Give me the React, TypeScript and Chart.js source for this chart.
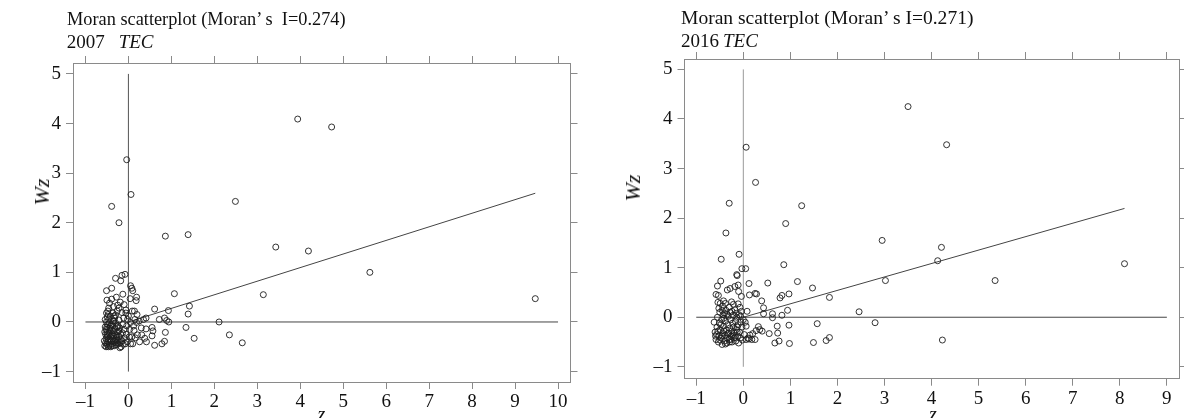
import React, { useEffect, useRef } from "react";
import { Chart, registerables } from "chart.js";

Chart.register(...registerables);

// ---------- DATA ----------
const yTicks = [-1, 0, 1, 2, 3, 4, 5];
const xTicks2007 = [-1, 0, 1, 2, 3, 4, 5, 6, 7, 8, 9, 10];
const xTicks2016 = [-1, 0, 1, 2, 3, 4, 5, 6, 7, 8, 9];

const moranI2007 = 0.274;
const moranI2016 = 0.271;

// [z, Wz]
const points2007: [number, number][] = [
  [3.94, 4.09], [4.73, 3.93], [-0.04, 3.27], [0.06, 2.57], [-0.39, 2.33], [-0.22, 2.0],
  [2.49, 2.43], [0.86, 1.73], [1.39, 1.76], [3.43, 1.51], [4.19, 1.43], [5.62, 1.0],
  [9.47, 0.47], [3.14, 0.55], [1.07, 0.57], [1.42, 0.32], [1.39, 0.16], [2.11, 0.0],
  [1.34, -0.11], [1.53, -0.33], [2.35, -0.26], [2.65, -0.42], [0.61, 0.26], [0.93, 0.23],
  [0.86, -0.21], [0.84, -0.39], [0.78, -0.44], [0.72, 0.05], [0.84, 0.08], [0.89, 0.03],
  [0.94, 0.0], [0.61, -0.47], [0.55, -0.11], [0.55, -0.28], [0.57, -0.18], [0.41, -0.14],
  [0.41, 0.08], [0.35, 0.05], [0.31, -0.26], [0.42, -0.4], [0.26, -0.4], [0.21, -0.26],
  [0.13, -0.17], [0.1, -0.44], [0.05, -0.01], [0.19, -0.01],
  [-0.08, 0.96], [-0.15, 0.94], [-0.18, 0.83], [-0.3, 0.88], [0.05, 0.73], [0.08, 0.68],
  [0.1, 0.63], [-0.39, 0.68], [-0.51, 0.63], [0.19, 0.5], [0.18, 0.43], [0.04, 0.47],
  [-0.13, 0.56], [-0.28, 0.5], [-0.39, 0.46], [-0.5, 0.44], [-0.19, 0.4], [-0.25, 0.34],
  [-0.35, 0.31], [0.09, 0.22], [-0.06, 0.24], [-0.15, 0.19], [-0.46, 0.28], [-0.51, 0.18],
  [-0.3, 0.14],
  [-0.55, -0.48], [-0.52, -0.5], [-0.5, -0.45], [-0.48, -0.4], [-0.47, -0.35], [-0.5, -0.3],
  [-0.53, -0.25], [-0.55, -0.2], [-0.52, -0.15], [-0.5, -0.1], [-0.48, -0.05], [-0.51, 0.0],
  [-0.54, 0.05], [-0.49, 0.1], [-0.46, 0.05], [-0.44, -0.02], [-0.43, -0.12], [-0.45, -0.22],
  [-0.42, -0.3], [-0.4, -0.38], [-0.44, -0.45], [-0.41, -0.5], [-0.38, -0.44], [-0.36, -0.34],
  [-0.38, -0.25], [-0.35, -0.18], [-0.37, -0.08], [-0.34, 0.02], [-0.32, 0.08], [-0.3, -0.02],
  [-0.31, -0.14], [-0.29, -0.26], [-0.32, -0.4], [-0.28, -0.46], [-0.26, -0.36], [-0.25, -0.2],
  [-0.24, -0.08], [-0.22, 0.04], [-0.2, -0.12], [-0.21, -0.3], [-0.19, -0.42], [-0.17, -0.5],
  [-0.2, -0.52], [-0.15, -0.38], [-0.14, -0.22], [-0.13, -0.05], [-0.11, 0.08], [-0.1, -0.15],
  [-0.09, -0.32], [-0.07, -0.44], [-0.05, -0.25], [-0.04, -0.08], [-0.02, 0.05], [-0.03, -0.4],
  [0.02, -0.3], [0.03, -0.15], [-0.46, -0.28], [-0.4, -0.16], [-0.33, -0.48], [-0.27, -0.1],
  [-0.23, -0.44], [-0.47, 0.15], [-0.42, 0.12], [-0.36, 0.18], [-0.56, -0.38], [-0.54, -0.1],
  [-0.49, -0.2], [-0.39, -0.05], [-0.35, -0.28], [-0.3, -0.35], [-0.45, -0.48], [-0.18, -0.25],
  [-0.12, -0.45], [0.05, -0.44], [0.08, -0.3], [0.12, -0.08], [0.0, 0.12], [-0.06, 0.18],
  [0.14, 0.22], [0.2, 0.15],
  [-0.53, -0.42], [-0.47, -0.5], [-0.43, -0.36], [-0.39, -0.28], [-0.37, -0.48], [-0.34, -0.38],
  [-0.33, -0.22], [-0.29, -0.42], [-0.27, -0.3], [-0.24, -0.38], [-0.22, -0.18], [-0.18, -0.35],
  [-0.52, -0.34], [-0.49, -0.26], [-0.46, -0.13], [-0.41, -0.08], [-0.36, 0.02], [-0.33, 0.12],
  [-0.26, 0.22], [-0.44, 0.38], [-0.48, 0.22], [-0.22, 0.28], [-0.1, 0.35], [0.15, 0.05],
  [0.25, 0.02], [0.3, -0.12], [0.38, -0.33], [0.16, -0.32],
];

const points2016: [number, number][] = [
  [3.5, 4.25], [4.32, 3.48], [0.06, 3.43], [0.26, 2.72], [-0.3, 2.3], [1.24, 2.25],
  [0.9, 1.89], [-0.37, 1.7], [2.95, 1.55], [4.21, 1.41], [4.13, 1.14], [8.1, 1.08],
  [5.35, 0.74], [-0.47, 1.17], [-0.09, 1.27], [0.86, 1.06], [-0.03, 0.98], [0.05, 0.98],
  [-0.13, 0.84], [-0.14, 0.86], [3.02, 0.74], [1.15, 0.72], [0.52, 0.69], [0.12, 0.68],
  [1.47, 0.59], [1.83, 0.4], [0.97, 0.47], [0.82, 0.44], [0.78, 0.39], [0.25, 0.48],
  [0.28, 0.47], [0.13, 0.45], [0.39, 0.33], [0.43, 0.19], [0.94, 0.14], [0.82, 0.04],
  [0.62, 0.07], [0.43, 0.07], [2.46, 0.11], [2.8, -0.11], [1.57, -0.13], [0.97, -0.16],
  [0.62, -0.01], [0.72, -0.18], [0.55, -0.33], [0.73, -0.32], [0.76, -0.48], [0.67, -0.52],
  [0.98, -0.53], [1.49, -0.51], [1.76, -0.47], [1.83, -0.41], [4.23, -0.46], [0.35, -0.25],
  [0.32, -0.19], [0.4, -0.28], [0.27, -0.27], [0.2, -0.33], [0.25, -0.45], [0.12, -0.44],
  [0.06, -0.18], [0.04, -0.1],
  [-0.48, 0.73], [-0.55, 0.63], [-0.58, 0.46], [-0.53, 0.44], [-0.34, 0.55], [-0.28, 0.58],
  [-0.18, 0.62], [-0.1, 0.52], [-0.04, 0.42], [-0.11, 0.65], [-0.49, 0.28], [-0.42, 0.33],
  [-0.25, 0.31], [-0.21, 0.26], [-0.11, 0.27], [-0.07, 0.2],
  [-0.62, -0.1], [-0.6, -0.3], [-0.58, -0.45], [-0.56, -0.2], [-0.55, 0.0], [-0.53, -0.5],
  [-0.52, -0.38], [-0.51, -0.12], [-0.5, 0.1], [-0.49, -0.25], [-0.47, -0.42], [-0.46, -0.05],
  [-0.45, -0.55], [-0.44, -0.32], [-0.43, 0.05], [-0.42, -0.18], [-0.4, -0.48], [-0.39, -0.36],
  [-0.38, -0.08], [-0.37, 0.14], [-0.36, -0.26], [-0.35, -0.52], [-0.34, -0.42], [-0.33, -0.15],
  [-0.32, 0.02], [-0.31, -0.32], [-0.3, -0.45], [-0.29, -0.22], [-0.28, 0.1], [-0.27, -0.05],
  [-0.26, -0.38], [-0.25, -0.28], [-0.24, -0.5], [-0.23, -0.12], [-0.22, 0.04], [-0.21, -0.2],
  [-0.2, -0.42], [-0.19, -0.32], [-0.18, 0.15], [-0.17, -0.08], [-0.16, -0.48], [-0.15, -0.25],
  [-0.14, 0.0], [-0.12, -0.38], [-0.11, -0.15], [-0.1, -0.52], [-0.09, 0.05], [-0.08, -0.3],
  [-0.06, -0.42], [-0.05, -0.1], [-0.04, 0.12], [-0.03, -0.2], [-0.02, -0.46], [0.0, -0.05],
  [0.02, -0.35], [-0.57, -0.35], [-0.48, -0.15], [-0.41, -0.02], [-0.35, 0.06], [-0.27, -0.45],
  [-0.13, -0.2], [-0.06, 0.02], [-0.52, 0.18], [-0.44, 0.22], [-0.3, 0.2], [0.06, -0.45],
  [0.1, -0.42], [0.14, -0.36], [0.18, -0.45],
  [-0.59, -0.38], [-0.54, -0.28], [-0.5, -0.46], [-0.45, -0.38], [-0.41, -0.28], [-0.38, -0.54],
  [-0.33, -0.33], [-0.29, -0.5], [-0.23, -0.36], [-0.17, -0.4], [-0.13, -0.3], [-0.45, 0.14],
  [-0.4, 0.08], [-0.24, 0.12], [-0.15, 0.08], [-0.54, 0.3], [-0.38, 0.28], [0.08, 0.12],
];

// ---------- STYLE / LAYOUT ----------
const FONT = "'Liberation Serif', 'Times New Roman', serif";
const FRAME = "#8a8a8a";

type Panel = {
  points: [number, number][];
  moranI: number;
  xTicks: number[];
  xMin: number;
  xMax: number;
  yMin: number;
  yMax: number;
  canvasLeft: number;
  canvasW: number;
  area: { left: number; top: number; right: number; bottom: number };
  vLineColor: string;
};

const panels: Panel[] = [
  {
    points: points2007, moranI: moranI2007, xTicks: xTicks2007,
    xMin: -1.29, xMax: 10.29, yMin: -1.21, yMax: 5.22,
    canvasLeft: 0, canvasW: 600,
    area: { left: 73, top: 63, right: 570.5, bottom: 382 },
    vLineColor: "#555",
  },
  {
    points: points2016, moranI: moranI2016, xTicks: xTicks2016,
    xMin: -1.25, xMax: 9.26, yMin: -1.24, yMax: 5.21,
    canvasLeft: 600, canvasW: 584,
    area: { left: 84.5, top: 59, right: 582, bottom: 378.7 },
    vLineColor: "#9a9a9a",
  },
];

const H = 418;
const fmt = (v: number) => (v < 0 ? "\u2013" + Math.abs(v) : String(v));

function buildConfig(p: Panel): any {
  const maxX = Math.max(...p.points.map((q) => q[0]));
  const xs = p.xTicks;
  const regLine = [
    { x: 0, y: 0 },
    { x: maxX, y: p.moranI * maxX },
  ];
  const hLine = [
    { x: xs[0], y: 0 },
    { x: xs[xs.length - 1], y: 0 },
  ];
  const vLine = [
    { x: 0, y: yTicks[0] },
    { x: 0, y: yTicks[yTicks.length - 1] },
  ];
  const setTicks = (vals: number[]) => (s: any) => {
    s.ticks = vals.map((v) => ({ value: v }));
  };
  const grid = { drawOnChartArea: false, drawTicks: true, tickLength: 7, color: FRAME, lineWidth: 1 };
  const border = { display: true, color: FRAME, width: 1 };
  const tickFont = { family: FONT, size: 19 };
  const a = p.area;
  return {
    type: "scatter",
    data: {
      datasets: [
        { data: hLine, showLine: true, pointRadius: 0, borderColor: "#444", borderWidth: 1, order: 3 },
        { data: vLine, showLine: true, pointRadius: 0, borderColor: p.vLineColor, borderWidth: 1, order: 3 },
        { data: regLine, showLine: true, pointRadius: 0, borderColor: "#444", borderWidth: 1, order: 2 },
        {
          data: p.points.map(([x, y]) => ({ x, y })),
          pointRadius: 3,
          pointBorderWidth: 0.9,
          borderColor: "#1e1e1e",
          backgroundColor: "rgba(0,0,0,0)",
          pointStyle: "circle",
          order: 1,
        },
      ],
    },
    options: {
      animation: false,
      responsive: false,
      devicePixelRatio: 1,
      layout: { padding: 0 },
      plugins: { legend: { display: false }, tooltip: { enabled: false }, title: { display: false } },
      scales: {
        x: {
          type: "linear", position: "bottom", min: p.xMin, max: p.xMax,
          afterBuildTicks: setTicks(xs),
          afterFit: (s: any) => { s.height = H - a.bottom; },
          grid, border,
          ticks: { color: "#111", font: tickFont, padding: 2, maxRotation: 0, autoSkip: false, callback: (v: number) => fmt(v) },
        },
        x2: {
          type: "linear", position: "top", min: p.xMin, max: p.xMax,
          afterBuildTicks: setTicks(xs),
          afterFit: (s: any) => { s.height = a.top; },
          grid, border,
          ticks: { display: false },
        },
        y: {
          type: "linear", position: "left", min: p.yMin, max: p.yMax,
          afterBuildTicks: setTicks(yTicks),
          afterFit: (s: any) => { s.width = a.left; },
          grid, border,
          ticks: { color: "#111", font: tickFont, padding: 5, callback: (v: number) => fmt(v) },
        },
        y2: {
          type: "linear", position: "right", min: p.yMin, max: p.yMax,
          afterBuildTicks: setTicks(yTicks),
          afterFit: (s: any) => { s.width = p.canvasW - a.right; },
          grid, border,
          ticks: { display: false },
        },
      },
    },
  };
}

function ChartCanvas({ panel }: { panel: Panel }) {
  const ref = useRef<HTMLCanvasElement | null>(null);
  useEffect(() => {
    if (!ref.current) return;
    const chart = new Chart(ref.current, buildConfig(panel));
    return () => chart.destroy();
  }, [panel]);
  return (
    <canvas
      ref={ref}
      width={panel.canvasW}
      height={H}
      style={{ position: "absolute", left: panel.canvasLeft, top: 0, width: panel.canvasW, height: H }}
    />
  );
}

const textBase: React.CSSProperties = {
  position: "absolute",
  fontFamily: FONT,
  color: "#111",
  whiteSpace: "pre",
  margin: 0,
};

export default function App() {
  return (
    <div
      style={{
        position: "fixed", left: 0, top: 0, width: 1184, height: H,
        overflow: "hidden", background: "#fff",
      }}
    >
      <ChartCanvas panel={panels[0]} />
      <ChartCanvas panel={panels[1]} />

      {/* Left titles */}
      <div style={{ ...textBase, left: 66.7, top: 9, fontSize: 19, lineHeight: "19px", transform: "scaleX(0.964)", transformOrigin: "left top" }}>
        {"Moran scatterplot (Moran\u2019 s  I=0.274)"}
      </div>
      <div style={{ ...textBase, left: 66.7, top: 32, fontSize: 19, lineHeight: "19px" }}>
        2007<span style={{ fontStyle: "italic", marginLeft: 14 }}>TEC</span>
      </div>
      {/* Right titles */}
      <div style={{ ...textBase, left: 681, top: 8, fontSize: 19, lineHeight: "19px", transform: "scaleX(1.029)", transformOrigin: "left top" }}>
        {"Moran scatterplot (Moran\u2019 s I=0.271)"}
      </div>
      <div style={{ ...textBase, left: 681, top: 31, fontSize: 19, lineHeight: "19px" }}>
        2016<span style={{ fontStyle: "italic", marginLeft: 4 }}>TEC</span>
      </div>

      {/* Y axis titles */}
      <div style={{ ...textBase, left: 42, top: 192, fontSize: 22, lineHeight: "22px", fontStyle: "italic", transform: "translate(-50%, -50%) rotate(-90deg)" }}>
        Wz
      </div>
      <div style={{ ...textBase, left: 633, top: 188, fontSize: 22, lineHeight: "22px", fontStyle: "italic", transform: "translate(-50%, -50%) rotate(-90deg)" }}>
        Wz
      </div>

      {/* X axis titles */}
      <div style={{ ...textBase, left: 321.5, top: 404, fontSize: 20, lineHeight: "20px", fontStyle: "italic", transform: "translateX(-50%)" }}>
        z
      </div>
      <div style={{ ...textBase, left: 933, top: 404, fontSize: 20, lineHeight: "20px", fontStyle: "italic", transform: "translateX(-50%)" }}>
        z
      </div>
    </div>
  );
}
